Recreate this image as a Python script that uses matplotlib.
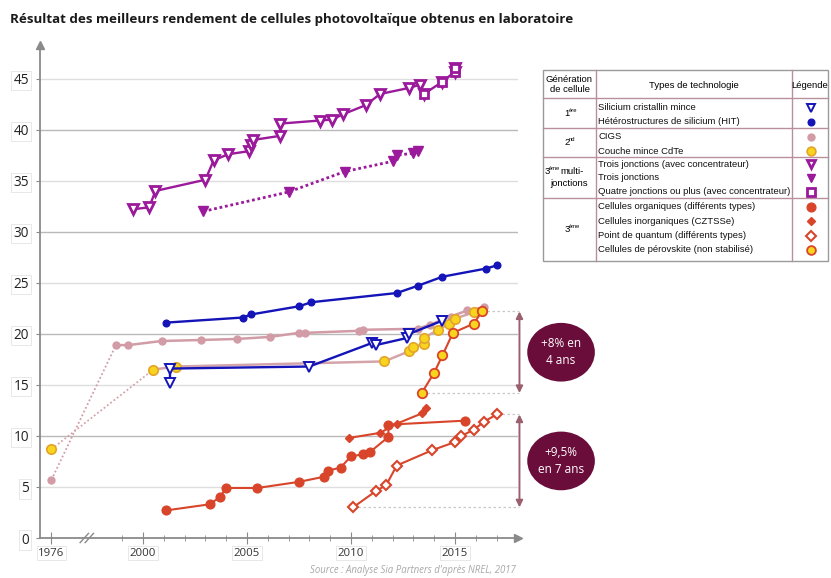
import numpy as np
import matplotlib
matplotlib.use("Agg")
import matplotlib.pyplot as plt
from matplotlib.patches import Ellipse, Rectangle

# ---------------- data (efficiency %, year) ----------------
year_3j_conc = [1999.5, 2000.3, 2000.6, 2003.0, 2003.4, 2004.1, 2005.1, 2005.2, 2005.3,
                2006.6, 2006.6, 2008.5, 2009.1, 2009.6, 2010.7, 2011.4, 2012.8, 2013.3]
eff_3j_conc = [32.2, 32.4, 34.0, 35.1, 37.0, 37.6, 37.9, 38.5, 39.0,
               39.4, 40.6, 40.9, 41.0, 41.5, 42.4, 43.5, 44.1, 44.4]
year_4j = [2013.5, 2014.4, 2015.0, 2015.0]
eff_4j = [43.5, 44.7, 45.7, 46.0]
year_3j = [2002.9, 2007.0, 2009.7, 2012.0, 2012.2, 2013.0, 2013.2]
eff_3j = [32.0, 33.9, 35.9, 36.9, 37.5, 37.7, 37.9]
year_hit = [2001.1, 2004.8, 2005.2, 2007.5, 2008.1, 2012.2, 2013.2, 2014.4, 2016.5, 2017.0]
eff_hit = [21.1, 21.6, 21.9, 22.7, 23.1, 24.0, 24.7, 25.6, 26.4, 26.7]
year_si_thin = [2001.3, 2001.3, 2008.0, 2011.0, 2011.2, 2012.7, 2012.8, 2014.4]
eff_si_thin = [15.2, 16.6, 16.8, 19.1, 18.9, 19.6, 20.0, 21.3]
year_cigs = [1976, 1998.7, 1999.3, 2000.9, 2002.8, 2004.5, 2006.1, 2007.5, 2007.8,
             2010.4, 2010.6, 2013.2, 2013.8, 2014.8, 2015.6, 2016.4]
eff_cigs = [5.7, 18.9, 18.9, 19.3, 19.4, 19.5, 19.7, 20.1, 20.1,
            20.3, 20.4, 20.5, 20.9, 21.7, 22.3, 22.6]
year_cdte = [1976, 2000.5, 2001.6, 2011.6, 2012.8, 2013.0, 2013.5, 2013.5, 2014.2,
             2014.7, 2015.0, 2015.9]
eff_cdte = [8.7, 16.5, 16.8, 17.3, 18.3, 18.7, 19.0, 19.6, 20.4, 21.0, 21.5, 22.1]
year_perov = [2013.4, 2014.0, 2014.4, 2014.9, 2015.9, 2016.3]
eff_perov = [14.2, 16.2, 17.9, 20.1, 21.0, 22.2]
year_org = [2001.1, 2003.2, 2003.7, 2004.0, 2005.5, 2007.5, 2008.7, 2008.9, 2009.5,
            2010.0, 2010.6, 2010.9, 2011.8, 2011.8, 2015.5]
eff_org = [2.7, 3.3, 4.0, 4.9, 4.9, 5.5, 6.0, 6.6, 6.9, 8.0, 8.2, 8.4, 9.9, 11.1, 11.5]
year_czts = [2009.9, 2011.4, 2012.2, 2013.4, 2013.6]
eff_czts = [9.8, 10.3, 11.2, 12.2, 12.7]
year_qd = [2010.1, 2011.2, 2011.7, 2012.2, 2013.9, 2015.0, 2015.3, 2015.9, 2016.4, 2017.0]
eff_qd = [3.0, 4.6, 5.2, 7.1, 8.6, 9.4, 10.0, 10.6, 11.4, 12.1]

y_ticks = [0, 5, 10, 15, 20, 25, 30, 35, 40, 45]
x_major_years = [1976, 2000, 2005, 2010, 2015]
x_minor_years = list(range(1999, 2018))

title = "Résultat des meilleurs rendement de cellules photovoltaïque obtenus en laboratoire"
source = "Source : Analyse Sia Partners d'après NREL, 2017"
label_perov = "+8% en\n4 ans"
label_qd = "+9,5%\nen 7 ans"

legend_rows = [
    ("Silicium cristallin mince", "thin"),
    ("Hétérostructures de silicium (HIT)", "hit"),
    ("CIGS", "cigs"),
    ("Couche mince CdTe", "cdte"),
    ("Trois jonctions (avec concentrateur)", "3jc"),
    ("Trois jonctions", "3j"),
    ("Quatre jonctions ou plus (avec concentrateur)", "4j"),
    ("Cellules organiques (différents types)", "org"),
    ("Cellules inorganiques (CZTSSe)", "czts"),
    ("Point de quantum (différents types)", "qd"),
    ("Cellules de pérovskite (non stabilisé)", "perov"),
]

# ---------------- styles ----------------
PURPLE = "#9b1a9b"
BLUE = "#1414b8"
PINK = "#d29ca6"
PINK_LINE = "#d4a4ab"
YELLOW = "#f8d41e"
YELLOW_EDGE = "#e2a52a"
RED = "#d8452a"
MAROON = "#6a0d3a"
ARROW = "#9b6070"

styles = {
    "thin": dict(marker="v", ms=7.5, mfc="white", mec=BLUE, mew=1.4, color=BLUE),
    "hit": dict(marker="o", ms=4.8, mfc=BLUE, mec=BLUE, color=BLUE),
    "cigs": dict(marker="o", ms=5.0, mfc=PINK, mec=PINK, color=PINK),
    "cdte": dict(marker="o", ms=6.8, mfc=YELLOW, mec=YELLOW_EDGE, mew=1.2, color=PINK_LINE),
    "3jc": dict(marker="v", ms=7.0, mfc="white", mec=PURPLE, mew=2.0, color=PURPLE),
    "3j": dict(marker="v", ms=7.5, mfc=PURPLE, mec=PURPLE, color=PURPLE),
    "4j": dict(marker="s", ms=5.8, mfc="white", mec=PURPLE, mew=2.0, color=PURPLE),
    "org": dict(marker="o", ms=6.3, mfc=RED, mec=RED, color=RED),
    "czts": dict(marker="D", ms=3.6, mfc=RED, mec=RED, color=RED),
    "qd": dict(marker="D", ms=5.0, mfc="white", mec=RED, mew=1.5, color=RED),
    "perov": dict(marker="o", ms=6.8, mfc=YELLOW, mec=RED, mew=1.3, color=RED),
}

BREAK_POS = 1995.6  # where 1976 is drawn on the broken axis


def xpos(years):
    y = np.asarray(years, float)
    return np.where(y < 1990, BREAK_POS, y)


W, H = 831, 578
fig = plt.figure(figsize=(W / 100, H / 100), dpi=100)
fig.patch.set_facecolor("white")


def px_rect(x0, y0, x1, y1):
    return [x0 / W, 1 - y1 / H, (x1 - x0) / W, (y1 - y0) / H]


plt.rcParams["font.family"] = ["Open Sans", "DejaVu Sans"]

ax = fig.add_axes(px_rect(40, 45, 518, 538))
ax.set_xlim(1995.05, 2018.03)
ax.set_ylim(0, 48.3)

# grid
for v in y_ticks[1:]:
    ax.axhline(v, color="#b9b9b9" if v % 10 == 0 else "#dedede", lw=1.0, zorder=0)

for s in ["top", "right"]:
    ax.spines[s].set_visible(False)
for s in ["left", "bottom"]:
    ax.spines[s].set_color("#8a8a8a")
    ax.spines[s].set_linewidth(1.3)
ax.plot([1], [0], marker=">", ms=6, color="#8a8a8a", transform=ax.transAxes, clip_on=False)
ax.plot([0], [1], marker="^", ms=6, color="#8a8a8a", transform=ax.transAxes, clip_on=False)

ax.set_yticks(y_ticks)
ax.set_yticklabels([str(v) for v in y_ticks], fontsize=9.8, color="#222222")
ax.tick_params(axis="y", length=3, color="#8a8a8a", pad=5)
ax.set_xticks(xpos(x_major_years))
ax.set_xticklabels([str(v) for v in x_major_years], fontsize=8.2, color="#333333")
ax.set_xticks(xpos(x_minor_years), minor=True)
ax.tick_params(axis="x", which="major", direction="inout", length=8, color="#8a8a8a", pad=3)
ax.tick_params(axis="x", which="minor", direction="inout", length=4, color="#8a8a8a")
for lab in ax.get_xticklabels() + ax.get_yticklabels():
    lab.set_bbox(dict(boxstyle="square,pad=0.15", fc="white", ec="#e4e4e4", lw=0.6))

# axis break marks
bx = (BREAK_POS + 1999) / 2
for dx in (-0.12, 0.12):
    ax.plot([bx + dx - 0.2, bx + dx + 0.2], [-0.45, 0.45], color="#8a8a8a", lw=1,
            clip_on=False, zorder=5)


def series(years, effs, key, lw=1.6, ls="-", dotted_first=False, z=3):
    st = dict(styles[key])
    col = st.pop("color")
    x = xpos(years)
    y = np.asarray(effs, float)
    if dotted_first:
        ax.plot(x[:2], y[:2], ls=(0, (1, 1.3)), color=col, lw=1.3, zorder=z)
        ax.plot(x[1:], y[1:], ls="-", color=col, lw=lw, zorder=z)
    else:
        ax.plot(x, y, ls=ls, color=col, lw=lw, zorder=z)
    ax.plot(x, y, ls="none", zorder=z + 0.5, **st)


series(year_cigs, eff_cigs, "cigs", lw=1.8, dotted_first=True, z=2)
series(year_cdte, eff_cdte, "cdte", lw=1.8, dotted_first=True, z=2.2)
series(year_si_thin, eff_si_thin, "thin", lw=1.7, z=3)
series(year_hit, eff_hit, "hit", lw=1.7, z=3)
series(year_perov, eff_perov, "perov", lw=1.5, z=4)
series(year_3j_conc + year_4j, eff_3j_conc + eff_4j, "3jc", lw=1.7, z=3)
ax.plot(xpos(year_4j), eff_4j, ls="none", zorder=4, **{k: v for k, v in styles["4j"].items() if k != "color"})
series(year_3j, eff_3j, "3j", lw=2.0, ls=(0, (1, 1)), z=3)
series(year_org, eff_org, "org", lw=1.5, z=3)
series(year_czts, eff_czts, "czts", lw=1.5, z=3.2)
series(year_qd, eff_qd, "qd", lw=1.5, z=3)

# guide lines, arrows and bubbles
arrow_x = 2018.1
for yrs, effs, lab in [(year_perov, eff_perov, label_perov), (year_qd, eff_qd, label_qd)]:
    lo_i, hi_i = int(np.argmin(effs)), int(np.argmax(effs))
    lo, hi = effs[lo_i], effs[hi_i]
    for i in (lo_i, hi_i):
        ax.plot([yrs[i], arrow_x], [effs[i], effs[i]], ls=(0, (2, 2)), color="#c8c8c8",
                lw=0.9, clip_on=False, zorder=1)
    ax.annotate("", xy=(arrow_x, lo), xytext=(arrow_x, hi),
                arrowprops=dict(arrowstyle="<|-|>", color=ARROW, lw=1.4, mutation_scale=10,
                                shrinkA=0, shrinkB=0), annotation_clip=False)
    cy = (lo + hi) / 2
    e = Ellipse((2020.1, cy), 3.25, 5.75, fc=MAROON, ec="none", clip_on=False, zorder=6)
    ax.add_patch(e)
    ax.text(2020.1, cy, lab, color="white", fontsize=8.5, ha="center", va="center",
            linespacing=1.35, zorder=7, clip_on=False)

# ---------------- overlay: title, source, legend table ----------------
ov = fig.add_axes([0, 0, 1, 1])
ov.set_xlim(0, W)
ov.set_ylim(H, 0)
ov.axis("off")
ov.patch.set_alpha(0)

ov.text(10, 20, title, fontsize=9.6, fontweight="bold", ha="left", va="center", color="#1a1a1a")
ov.text(310, 570, source, fontsize=6.9, style="italic", color="#a8a8a8", ha="left", va="center")

TF = ["Liberation Sans", "DejaVu Sans"]
LC = "#b8909c"
tx0, tx1, ty0, ty1 = 543, 828, 70, 261
c1, c2 = 596, 792
ov.add_patch(Rectangle((tx0, ty0), tx1 - tx0, ty1 - ty0, fc="white", ec="#9a9a9a", lw=1.0))
for xx in (c1, c2):
    ov.plot([xx, xx], [ty0, ty1], color=LC, lw=1.0)
for yy in (98, 128, 157, 198):
    ov.plot([tx0, tx1], [yy, yy], color=LC, lw=1.0)

fs = 6.8
ov.text((tx0 + c1) / 2, 84.5, "Génération\nde cellule", fontsize=fs, ha="center", va="center",
        family=TF, linespacing=1.15)
ov.text((c1 + c2) / 2, 85, "Types de technologie", fontsize=fs, ha="center", va="center", family=TF)
ov.text((c2 + tx1) / 2, 85, "Légende", fontsize=fs, ha="center", va="center", family=TF)

gen_labels = [("1", "ère", "", 113), ("2", "nd", "", 142.5), ("3", "ème", "multi-", 171),
              ("3", "ème", "", 229.5)]
gx = (tx0 + c1) / 2
for base, sup, rest, yy in gen_labels:
    if rest:
        ov.text(gx - 25, yy, base, fontsize=fs, ha="left", va="center", family=TF)
        ov.text(gx - 21, yy - 3, sup, fontsize=4.2, ha="left", va="center", family=TF)
        ov.text(gx - 9, yy, rest, fontsize=fs, ha="left", va="center", family=TF)
    else:
        ov.text(gx - 5, yy, base, fontsize=fs, ha="left", va="center", family=TF)
        ov.text(gx - 1, yy - 3, sup, fontsize=4.2, ha="left", va="center", family=TF)
ov.text(gx, 183.5, "jonctions", fontsize=fs, ha="center", va="center", family=TF)

row_y = [107.7, 121.7, 136.7, 151, 164.3, 177.7, 191.7, 206.7, 221, 235.7, 250]
for (lab, key), yy in zip(legend_rows, row_y):
    ov.text(598.5, yy, lab, fontsize=fs, ha="left", va="center", family=TF, color="#111111")
    st = {k: v for k, v in styles[key].items() if k != "color"}
    st["ms"] = min(st["ms"], 6.3)
    ov.plot([811], [yy], ls="none", **st)

fig.savefig("out.png", dpi=100)
